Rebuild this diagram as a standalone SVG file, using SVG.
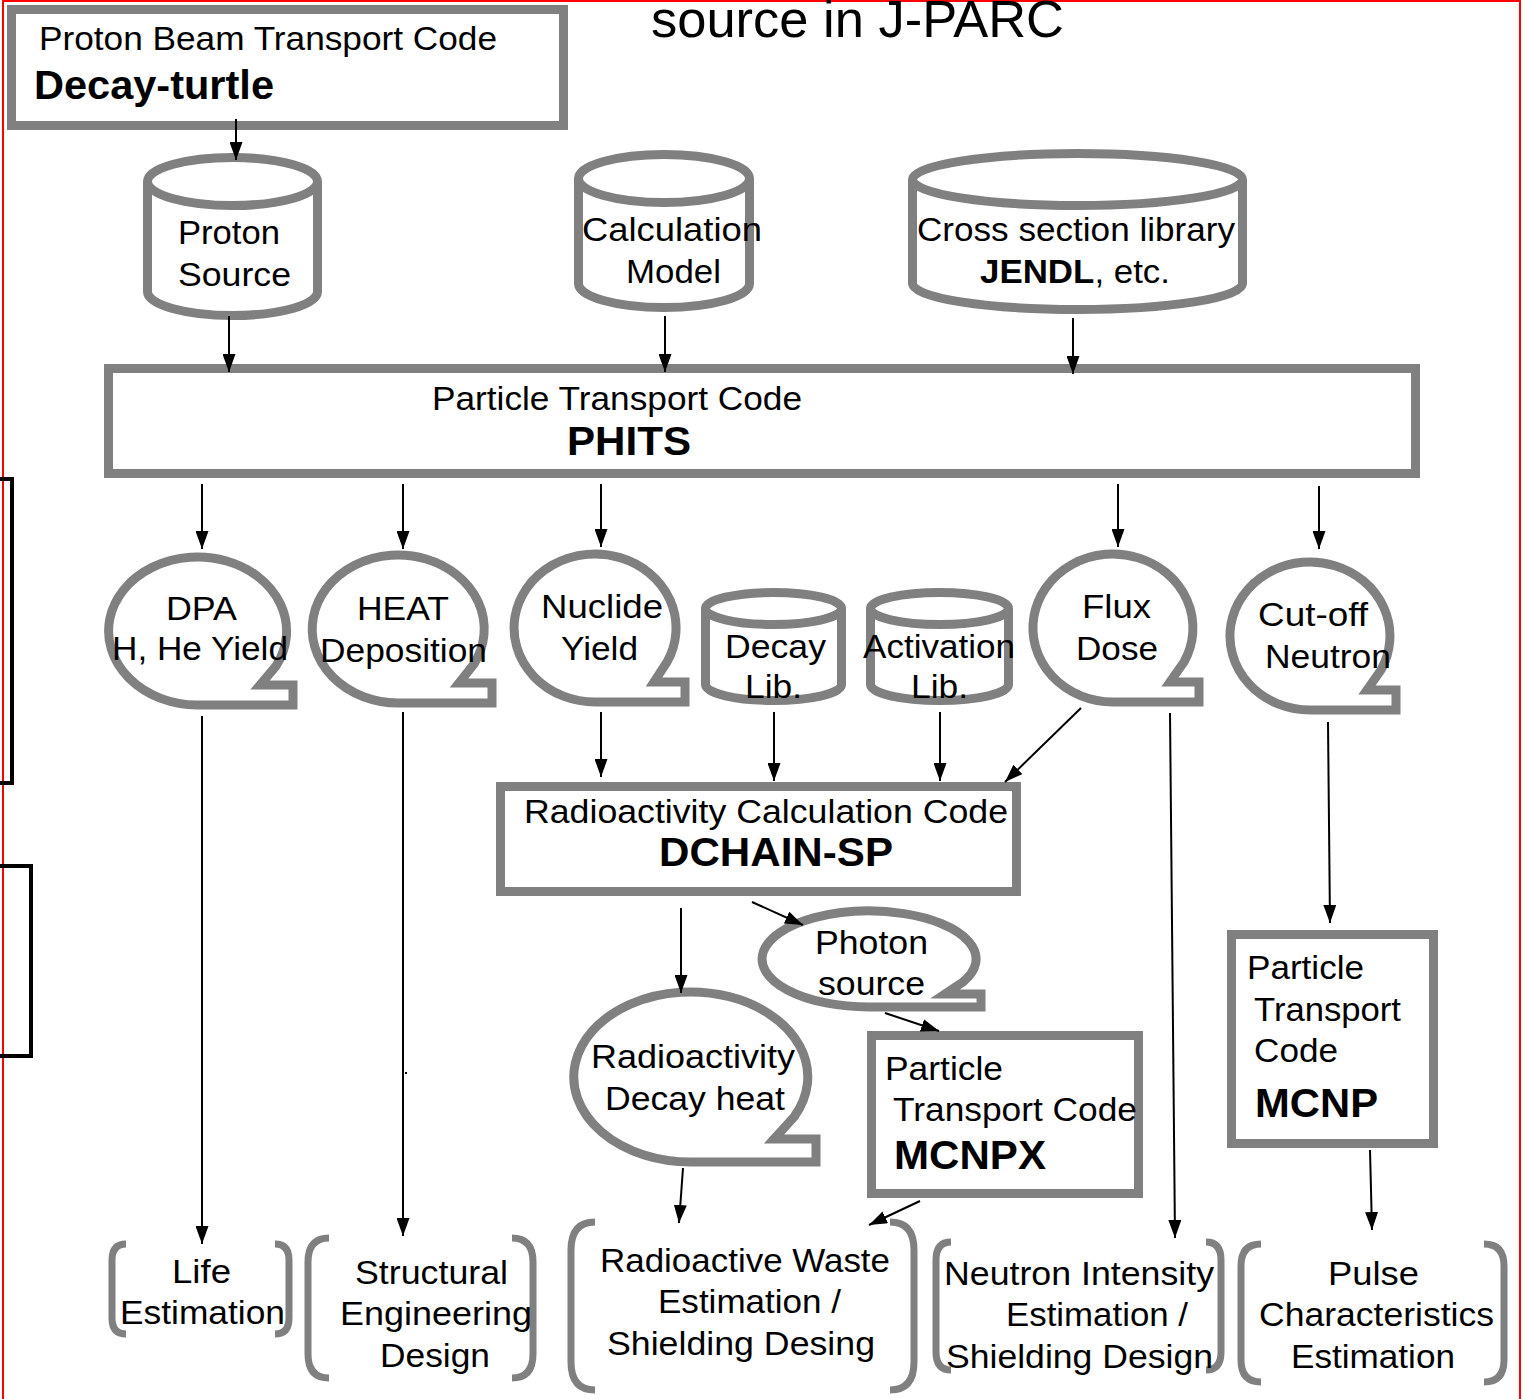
<svg xmlns="http://www.w3.org/2000/svg" width="1529" height="1399" viewBox="0 0 1529 1399">
<defs>
<marker id="ah" viewBox="0 0 18 13" refX="18" refY="6.5" markerWidth="18" markerHeight="13" markerUnits="userSpaceOnUse" orient="auto">
<path d="M0,0 L18,6.5 L0,13 Z" fill="#000"/>
</marker>
<style>
.sh{fill:#fff;stroke:#808080;stroke-width:9;stroke-linejoin:miter}
.br{fill:none;stroke:#808080;stroke-width:7;stroke-linecap:butt}
.t{font-family:"Liberation Sans",Arial,sans-serif;font-size:34px;fill:#000}
.b{font-family:"Liberation Sans",Arial,sans-serif;font-size:40px;font-weight:bold;fill:#000}
.c{stroke:#000;stroke-width:2;fill:none;marker-end:url(#ah)}
.k{fill:none;stroke:#000;stroke-width:4}
</style>
</defs>
<rect width="1529" height="1399" fill="#fff"/>
<rect x="3" y="1" width="1517" height="1410" fill="none" stroke="#f00" stroke-width="2"/>
<text class="t" x="651" y="37" style="font-size:52px" textLength="413" lengthAdjust="spacingAndGlyphs">source in J-PARC</text>

<rect class="k" x="-10" y="479" width="22" height="304" fill="#fff"/>
<rect class="k" x="-10" y="866" width="41" height="190" fill="#fff"/>

<g id="decay-turtle">
<rect class="sh" x="11.5" y="9.5" width="552" height="116"/>
<text class="t" x="39" y="50" textLength="458" lengthAdjust="spacingAndGlyphs">Proton Beam Transport Code</text>
<text class="b" x="34" y="99" textLength="240" lengthAdjust="spacingAndGlyphs">Decay-turtle</text>
</g>

<g id="proton-source">
<path class="sh" d="M147.5,181.5 V291.5 A85,24 0 0 0 317.5,291.5 V181.5"/>
<ellipse class="sh" cx="232.5" cy="181.5" rx="85" ry="24"/>
<text class="t" x="178" y="244" textLength="102" lengthAdjust="spacingAndGlyphs">Proton</text>
<text class="t" x="178" y="286" textLength="113" lengthAdjust="spacingAndGlyphs">Source</text>
</g>

<g id="calc-model">
<path class="sh" d="M578.5,178.5 V283.5 A85.5,24 0 0 0 749.5,283.5 V178.5"/>
<ellipse class="sh" cx="664" cy="178.5" rx="85.5" ry="24"/>
<text class="t" x="582" y="241" textLength="180" lengthAdjust="spacingAndGlyphs">Calculation</text>
<text class="t" x="626" y="283" textLength="95" lengthAdjust="spacingAndGlyphs">Model</text>
</g>

<g id="cross-section">
<path class="sh" d="M912.5,179.5 V283.5 A165,26 0 0 0 1242.5,283.5 V179.5"/>
<ellipse class="sh" cx="1077.5" cy="179.5" rx="165" ry="26"/>
<text class="t" x="917" y="241" textLength="318" lengthAdjust="spacingAndGlyphs">Cross section library</text>
<text class="t" x="980" y="283" textLength="190" lengthAdjust="spacingAndGlyphs"><tspan font-weight="bold">JENDL</tspan>, etc.</text>
</g>

<g id="phits">
<rect class="sh" x="108.5" y="368.5" width="1307" height="105"/>
<text class="t" x="432" y="410" textLength="370" lengthAdjust="spacingAndGlyphs">Particle Transport Code</text>
<text class="b" x="567" y="455" textLength="124" lengthAdjust="spacingAndGlyphs">PHITS</text>
</g>

<g id="dpa">
<path class="sh" d="M276,666 L260,685 H293 V705 H197 A89,74 0 1 1 276,666 Z"/>
<text class="t" x="166" y="620" textLength="71" lengthAdjust="spacingAndGlyphs">DPA</text>
<text class="t" x="112" y="660" textLength="176" lengthAdjust="spacingAndGlyphs">H, He Yield</text>
</g>

<g id="heat">
<path class="sh" d="M474,664 L459,683 H492 V703 H398 A86,74 0 1 1 474,664 Z"/>
<text class="t" x="357" y="620" textLength="92" lengthAdjust="spacingAndGlyphs">HEAT</text>
<text class="t" x="320" y="662" textLength="167" lengthAdjust="spacingAndGlyphs">Deposition</text>
</g>

<g id="nuclide">
<path class="sh" d="M667,662 L654,682 H685 V702 H596 A81,74 0 1 1 667,662 Z"/>
<text class="t" x="541" y="618" textLength="122" lengthAdjust="spacingAndGlyphs">Nuclide</text>
<text class="t" x="561" y="660" textLength="77" lengthAdjust="spacingAndGlyphs">Yield</text>
</g>

<g id="decay-lib">
<path class="sh" d="M705.5,608.5 V684.5 A68,16 0 0 0 841.5,684.5 V608.5"/>
<ellipse class="sh" cx="773.5" cy="608.5" rx="68" ry="16"/>
<text class="t" x="725" y="658" textLength="101" lengthAdjust="spacingAndGlyphs">Decay</text>
<text class="t" x="745" y="698" textLength="57" lengthAdjust="spacingAndGlyphs">Lib.</text>
</g>

<g id="activation-lib">
<path class="sh" d="M870.5,608.5 V684.5 A69,16 0 0 0 1008.5,684.5 V608.5"/>
<ellipse class="sh" cx="939.5" cy="608.5" rx="69" ry="16"/>
<text class="t" x="863" y="658" textLength="152" lengthAdjust="spacingAndGlyphs">Activation</text>
<text class="t" x="911" y="698" textLength="57" lengthAdjust="spacingAndGlyphs">Lib.</text>
</g>

<g id="flux">
<path class="sh" d="M1184,662 L1170,682 H1199 V702 H1113 A80,74 0 1 1 1184,662 Z"/>
<text class="t" x="1082" y="618" textLength="69" lengthAdjust="spacingAndGlyphs">Flux</text>
<text class="t" x="1076" y="660" textLength="82" lengthAdjust="spacingAndGlyphs">Dose</text>
</g>

<g id="cutoff">
<path class="sh" d="M1381,670 L1367,690 H1396 V710 H1310 A80,74 0 1 1 1381,670 Z"/>
<text class="t" x="1258" y="626" textLength="110" lengthAdjust="spacingAndGlyphs">Cut-off</text>
<text class="t" x="1265" y="668" textLength="126" lengthAdjust="spacingAndGlyphs">Neutron</text>
</g>

<g id="dchain">
<rect class="sh" x="500.5" y="786.5" width="516" height="105"/>
<text class="t" x="524" y="823" textLength="484" lengthAdjust="spacingAndGlyphs">Radioactivity Calculation Code</text>
<text class="b" x="659" y="866" textLength="234" lengthAdjust="spacingAndGlyphs">DCHAIN-SP</text>
</g>

<g id="photon">
<path class="sh" d="M963,982 L945,994 H981 V1007 H869 A107,48 0 1 1 963,982 Z"/>
<text class="t" x="815" y="954" textLength="113" lengthAdjust="spacingAndGlyphs">Photon</text>
<text class="t" x="818" y="995" textLength="107" lengthAdjust="spacingAndGlyphs">source</text>
</g>

<g id="radioactivity">
<path class="sh" d="M794,1117 L774,1139 H816 V1162 H691 A117,85 0 1 1 794,1117 Z"/>
<text class="t" x="591" y="1068" textLength="204" lengthAdjust="spacingAndGlyphs">Radioactivity</text>
<text class="t" x="605" y="1110" textLength="180" lengthAdjust="spacingAndGlyphs">Decay heat</text>
</g>

<g id="mcnpx">
<rect class="sh" x="871.5" y="1035.5" width="267" height="158"/>
<text class="t" x="885" y="1080" textLength="118" lengthAdjust="spacingAndGlyphs">Particle</text>
<text class="t" x="893" y="1121" textLength="244" lengthAdjust="spacingAndGlyphs">Transport Code</text>
<text class="b" x="894" y="1169" textLength="152" lengthAdjust="spacingAndGlyphs">MCNPX</text>
</g>

<g id="mcnp">
<rect class="sh" x="1231.5" y="934.5" width="202" height="209"/>
<text class="t" x="1247" y="979" textLength="117" lengthAdjust="spacingAndGlyphs">Particle</text>
<text class="t" x="1254" y="1021" textLength="147" lengthAdjust="spacingAndGlyphs">Transport</text>
<text class="t" x="1254" y="1062" textLength="84" lengthAdjust="spacingAndGlyphs">Code</text>
<text class="b" x="1255" y="1117" textLength="123" lengthAdjust="spacingAndGlyphs">MCNP</text>
</g>

<g id="life">
<path class="br" d="M126,1244 Q112,1244 112,1260 V1318 Q112,1334 126,1334"/>
<path class="br" d="M275,1244 Q289,1244 289,1260 V1318 Q289,1334 275,1334"/>
<text class="t" x="172" y="1283" textLength="59" lengthAdjust="spacingAndGlyphs">Life</text>
<text class="t" x="120" y="1324" textLength="165" lengthAdjust="spacingAndGlyphs">Estimation</text>
</g>

<g id="structural">
<path class="br" d="M329,1238 Q308,1238 308,1262 V1354 Q308,1378 329,1378"/>
<path class="br" d="M512,1238 Q533,1238 533,1262 V1354 Q533,1378 512,1378"/>
<text class="t" x="355" y="1284" textLength="153" lengthAdjust="spacingAndGlyphs">Structural</text>
<text class="t" x="340" y="1325" textLength="192" lengthAdjust="spacingAndGlyphs">Engineering</text>
<text class="t" x="380" y="1367" textLength="110" lengthAdjust="spacingAndGlyphs">Design</text>
</g>

<g id="waste">
<path class="br" d="M595,1222 Q571,1222 571,1250 V1362 Q571,1390 595,1390"/>
<path class="br" d="M890,1222 Q914,1222 914,1250 V1362 Q914,1390 890,1390"/>
<text class="t" x="600" y="1272" textLength="290" lengthAdjust="spacingAndGlyphs">Radioactive Waste</text>
<text class="t" x="658" y="1313" textLength="183" lengthAdjust="spacingAndGlyphs">Estimation /</text>
<text class="t" x="607" y="1355" textLength="268" lengthAdjust="spacingAndGlyphs">Shielding Desing</text>
</g>

<g id="neutron">
<path class="br" d="M951,1242 Q936,1242 936,1260 V1352 Q936,1370 951,1370"/>
<path class="br" d="M1206,1242 Q1221,1242 1221,1260 V1352 Q1221,1370 1206,1370"/>
<text class="t" x="944" y="1285" textLength="270" lengthAdjust="spacingAndGlyphs">Neutron Intensity</text>
<text class="t" x="1006" y="1326" textLength="182" lengthAdjust="spacingAndGlyphs">Estimation /</text>
<text class="t" x="946" y="1368" textLength="267" lengthAdjust="spacingAndGlyphs">Shielding Design</text>
</g>

<g id="pulse">
<path class="br" d="M1261,1244 Q1241,1244 1241,1266 V1360 Q1241,1382 1261,1382"/>
<path class="br" d="M1484,1244 Q1504,1244 1504,1266 V1360 Q1504,1382 1484,1382"/>
<text class="t" x="1328" y="1285" textLength="91" lengthAdjust="spacingAndGlyphs">Pulse</text>
<text class="t" x="1259" y="1326" textLength="235" lengthAdjust="spacingAndGlyphs">Characteristics</text>
<text class="t" x="1291" y="1368" textLength="164" lengthAdjust="spacingAndGlyphs">Estimation</text>
</g>

<g id="connectors">
<path class="c" d="M236,119 V160"/>
<path class="c" d="M229,316 V372"/>
<path class="c" d="M665,316 V372"/>
<path class="c" d="M1073,318 V374"/>
<path class="c" d="M202,484 V549"/>
<path class="c" d="M403,484 V549"/>
<path class="c" d="M601,484 V547"/>
<path class="c" d="M1118,484 V547"/>
<path class="c" d="M1319,486 V549"/>
<path class="c" d="M202,716 V1244"/>
<path class="c" d="M403,712 V1236"/>
<path class="c" d="M601,712 V777"/>
<path class="c" d="M774,712 V781"/>
<path class="c" d="M940,712 V781"/>
<path class="c" d="M1081,708 L1005,782"/>
<path class="c" d="M1170,713 L1175,1238"/>
<path class="c" d="M1328,722 L1330,923"/>
<path class="c" d="M681,908 V993"/>
<path class="c" d="M752,902 L803,925"/>
<path class="c" d="M885,1013 L939,1031"/>
<path class="c" d="M683,1168 L679,1223"/>
<path class="c" d="M920,1201 L869,1225"/>
<path class="c" d="M1370,1150 L1372,1230"/>
<rect x="405" y="1072" width="2" height="2" fill="#000"/>
</g>
</svg>
